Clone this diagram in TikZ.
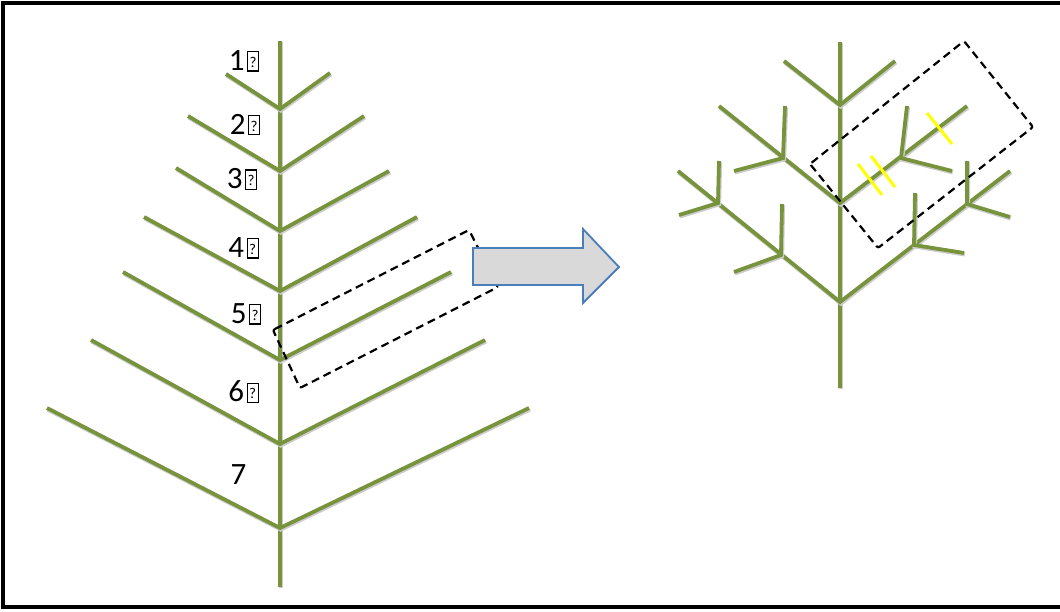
\documentclass[tikz,border=0pt]{standalone}
\usepackage{fontspec}
\setmainfont{Carlito}
\definecolor{leaf}{HTML}{77933C}
\definecolor{arrowfill}{HTML}{D9D9D9}
\definecolor{arrowline}{HTML}{4A7EBB}
\definecolor{mark}{HTML}{FFFF00}
\newcommand{\qbox}{\hspace{2.5pt}{\fboxsep=0pt\fboxrule=1.1pt\fbox{\makebox[10pt]{\rule[0pt]{0pt}{18pt}\raisebox{3pt}{\fontsize{15}{15}\selectfont ?}}}}}
\tikzset{
  branch/.style={draw=leaf, line width=3.8pt,
    preaction={draw=black!20, line width=4.6pt, transform canvas={shift={(0.8pt,-1.2pt)}}}},
  yellowmark/.style={draw=mark, line width=3pt},
  cutbox/.style={draw=black, line width=2.2pt, dash pattern=on 8pt off 5pt, rounded corners=2pt},
  num/.style={font=\fontsize{31}{31}\selectfont, inner sep=0pt},
  bigarrow/.style={draw=arrowline, fill=arrowfill, line width=1.8pt, line join=miter}
}
\begin{document}
\begin{tikzpicture}[x=1pt,y=-1pt]
\useasboundingbox (0,0) rectangle (1060,611);
\draw[line width=4pt] (3,3) rectangle (1066,607);
% ---------- left tree ----------
\coordinate (lt) at (280,41);
\coordinate (lb) at (280,587);
\coordinate (j1) at (280,109);
\coordinate (j2) at (280,171);
\coordinate (j3) at (280,231);
\coordinate (j4) at (280,291);
\coordinate (j5) at (280,360);
\coordinate (j6) at (280,444);
\coordinate (j7) at (280,528);
\coordinate (l1) at (226,74);  \coordinate (r1) at (330,73);
\coordinate (l2) at (188,116); \coordinate (r2) at (364,116);
\coordinate (l3) at (176,168); \coordinate (r3) at (389,171);
\coordinate (l4) at (144,217); \coordinate (r4) at (417,217);
\coordinate (l5) at (123,272); \coordinate (r5) at (451,272);
\coordinate (l6) at (91,340);  \coordinate (r6) at (485,340);
\coordinate (l7) at (47,408);  \coordinate (r7) at (529,408);
\path[branch] (lt) -- (lb);
\foreach \i in {1,...,7}{
  \path[branch] (l\i) -- (j\i) -- (r\i);
}
\node[num] (n1) at (244,61) {1\qbox};
\node[num] (n2) at (245,124.5) {2\qbox};
\node[num] (n3) at (242,179) {3\qbox};
\node[num] (n4) at (243.5,248) {4\qbox};
\node[num] (n5) at (246,314) {5\qbox};
\node[num] (n6) at (243.5,392) {6\qbox};
\node[num] (n7) at (238.5,475) {7};
% dashed box left
\coordinate (a1) at (273,330);
\coordinate (a2) at (469,230);
\coordinate (a3) at (498,287);
\coordinate (a4) at (300,388);
\draw[cutbox] (a1) -- (a2) -- (a3) -- (a4) -- cycle;
% ---------- arrow ----------
\draw[bigarrow] (473,248) -- (583,248) -- (583,229) -- (619,267) -- (583,303) -- (583,285) -- (473,285) -- cycle;
% ---------- right tree ----------
\coordinate (tt) at (840,42);
\coordinate (tb) at (840,388);
\coordinate (k1) at (840,105);
\coordinate (k2) at (840,203);
\coordinate (k3) at (840,302);
\coordinate (k1l) at (784,61);  \coordinate (k1r) at (895,61);
\coordinate (k2l) at (719,106); \coordinate (k2r) at (967,106);
\coordinate (k3l) at (678,171); \coordinate (k3r) at (1010,171);
\path[branch] (tt) -- (tb);
\path[branch] (k1l) -- (k1) -- (k1r);
\path[branch] (k2l) -- (k2) -- (k2r);
\path[branch] (k3l) -- (k3) -- (k3r);
% sub-junctions
\coordinate (s1) at (783,158); \coordinate (s1u) at (785,106); \coordinate (s1o) at (734,171);
\coordinate (s2) at (901,158); \coordinate (s2u) at (907,106); \coordinate (s2o) at (952,171);
\coordinate (s3) at (781,255); \coordinate (s3u) at (782,204); \coordinate (s3o) at (734,272);
\coordinate (s4) at (718,203); \coordinate (s4u) at (719,161); \coordinate (s4o) at (679,215);
\coordinate (s5) at (914,245); \coordinate (s5u) at (915,193); \coordinate (s5o) at (964,253);
\coordinate (s6) at (967,204); \coordinate (s6u) at (967,161); \coordinate (s6o) at (1010,217);
\foreach \i in {1,...,6}{
  \path[branch] (s\i u) -- (s\i) -- (s\i o);
}
% yellow marks
\coordinate (y1a) at (858,164); \coordinate (y1b) at (882,195);
\coordinate (y2a) at (871,156); \coordinate (y2b) at (895,187);
\coordinate (y3a) at (927,113); \coordinate (y3b) at (952,144);
\draw[yellowmark] (y1a) -- (y1b);
\draw[yellowmark] (y2a) -- (y2b);
\draw[yellowmark] (y3a) -- (y3b);
% dashed box right
\coordinate (b1) at (810,164);
\coordinate (b2) at (964,41);
\coordinate (b3) at (1033,127);
\coordinate (b4) at (878,248);
\draw[cutbox] (b1) -- (b2) -- (b3) -- (b4) -- cycle;
\end{tikzpicture}
\end{document}
